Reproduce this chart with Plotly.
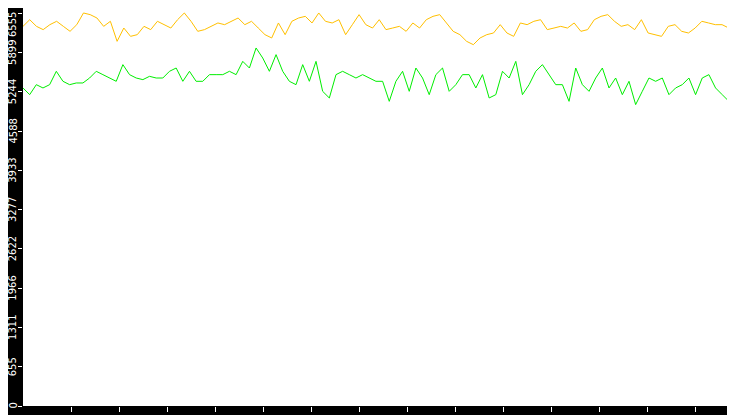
import plotly.graph_objects as go
import pandas as pd

orange = [6334,6445,6334,6279,6362,6418,6334,6251,6362,6557,6529,6473,6334,6418,6084,6306,6167,6195,6334,6279,6418,6362,6306,6445,6557,6418,6251,
          6279,6334,6390,6362,6418,6473,6362,6418,6306,6195,6140,6390,6195,6418,6473,6501,6390,6557,6418,6390,6445,6195,6362,6529,6362,6306,6445,
          6279,6306,6334,6251,6390,6306,6445,6501,6529,6390,6251,6195,6084,6028,6140,6195,6223,6362,6223,6167,6390,6362,6418,6445,6279,6306,6334,
          6306,6390,6251,6279,6445,6501,6529,6418,6334,6362,6279,6445,6223,6195,6167,6334,6362,6251,6223,6306,6418,6390,6362,6362,6306,6418,6445,0]
green = [5306,5194,5361,5306,5361,5584,5417,5361,5389,5389,5472,5584,5528,5472,5417,5695,5528,5472,5445,5500,5472,5472,5584,5639,5417,5584,5417,
         5417,5528,5528,5528,5584,5528,5750,5639,5973,5806,5584,5862,5584,5417,5361,5695,5417,5750,5250,5139,5528,5584,5528,5472,5528,5472,5417,
         5417,5083,5417,5584,5250,5639,5472,5194,5528,5639,5250,5361,5528,5528,5306,5528,5139,5194,5584,5472,5750,5194,5361,5584,5695,5528,5361,
         5361,5083,5639,5361,5250,5472,5639,5306,5472,5194,5417,5028,5250,5472,5417,5472,5194,5306,5361,5472,5194,5472,5528,5306,5194,5083,5028,5361,2650]
ytick_vals = [0,655,1311,1966,2622,3277,3933,4588,5244,5899,6555]
xtick_labels = ["14:01","14:02","14:03","14:04","14:05","14:06","14:07","14:08","14:09","14:10","14:11","14:12","14:13","14:14"]

YMAX = 6640

def times(n):
    base = list(pd.date_range("2024-01-01 14:00:00", "2024-01-01 14:14:59", periods=n - 1))
    return base + [pd.Timestamp("2024-01-01 14:14:59.9")]

xt = [pd.Timestamp("2024-01-01 " + t + ":00") for t in xtick_labels]

fig = go.Figure()
fig.add_trace(go.Scatter(x=times(len(green)), y=green, mode="lines", line=dict(color="#00ee00", width=1), hoverinfo="skip"))
fig.add_trace(go.Scatter(x=times(len(orange)), y=orange, mode="lines", line=dict(color="#ffc000", width=1), hoverinfo="skip"))

ann = []
for t, lab in zip(xt, xtick_labels):
    ann.append(dict(x=t, xref="x", y=0, yref="paper", yanchor="top", yshift=-5, text=lab,
                    showarrow=False, font=dict(color="white", size=11, family="DejaVu Sans")))
for v in ytick_vals:
    top = v == ytick_vals[-1]
    ann.append(dict(x=0, xref="paper", xanchor="right", xshift=-3,
                    y=(1 if top else v), yref=("paper" if top else "y"),
                    yanchor=("top" if top else "middle"), yshift=(-2 if top else 0),
                    text=str(v), textangle=-90, showarrow=False,
                    font=dict(color="white", size=10, family="DejaVu Sans")))

fig.update_layout(
    width=735, height=415, showlegend=False,
    paper_bgcolor="black", plot_bgcolor="white",
    margin=dict(l=15, r=0, t=0, b=17, autoexpand=False),
    font=dict(family="DejaVu Sans", size=10, color="white"),
    annotations=ann,
)
fig.update_xaxes(range=[pd.Timestamp("2024-01-01 14:00:00"), pd.Timestamp("2024-01-01 14:15:00")],
                 tickvals=xt, showticklabels=False, showgrid=False, zeroline=False,
                 ticks="outside", ticklen=5, tickcolor="white")
fig.update_yaxes(range=[0, YMAX], tickvals=ytick_vals, showticklabels=False,
                 showgrid=False, zeroline=False, ticks="outside", ticklen=4, tickcolor="white")
fig.write_html("out.html")
